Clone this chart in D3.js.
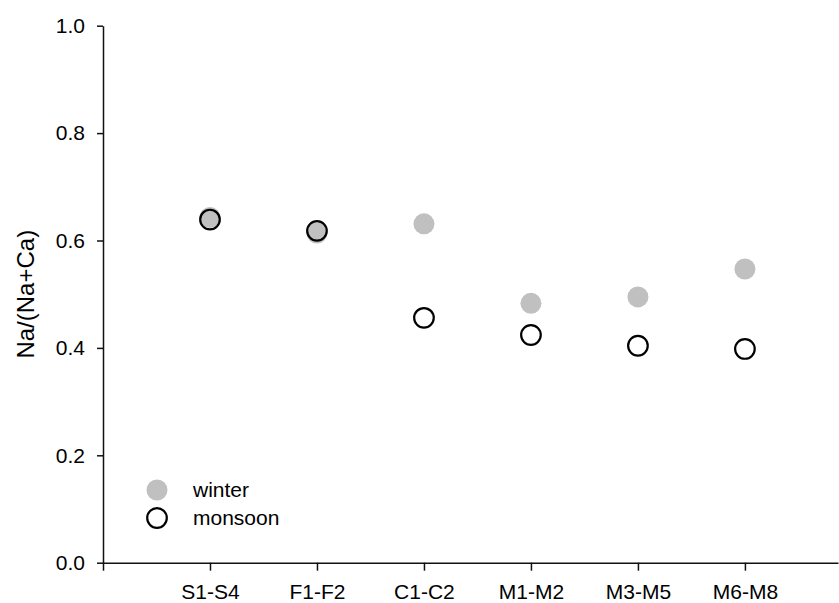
<!DOCTYPE html>
<html>
<head>
<meta charset="utf-8">
<script src="https://cdn.jsdelivr.net/npm/d3@7"></script>
<style>
  body { margin: 0; background: #fff; }
  svg { display: block; font-family: "Liberation Sans", Arial, sans-serif; }
</style>
</head>
<body>
<svg width="839" height="603"></svg>
<script>
var sites = ['S1-S4', 'F1-F2', 'C1-C2', 'M1-M2', 'M3-M5', 'M6-M8'];
var winter = [0.643, 0.614, 0.631, 0.483, 0.495, 0.547];
var monsoon = [0.639, 0.618, 0.456, 0.424, 0.404, 0.398];
var yTicks = [0, 0.2, 0.4, 0.6, 0.8, 1.0];

var svg = d3.select("svg");

// x runs in category units, 0 = origin, sites at 1..6
var x = d3.scaleLinear().domain([0, 6.87]).range([103, 838]);
var y = d3.scaleLinear().domain([0, 1]).range([562.7, 25.7]);

var xAxis = svg.append("g")
    .attr("transform", "translate(0," + y(0) + ")")
    .call(d3.axisBottom(x)
        .tickValues(d3.range(0, sites.length + 1))
        .tickSize(8)
        .tickPadding(13)
        .tickSizeOuter(0)
        .tickFormat(function(d) { return d === 0 ? "" : sites[d - 1]; }));

var yAxis = svg.append("g")
    .attr("transform", "translate(" + x(0) + ",0)")
    .call(d3.axisLeft(y)
        .tickValues(yTicks)
        .tickSize(6)
        .tickPadding(12)
        .tickSizeOuter(0)
        .tickFormat(d3.format(".1f")));

svg.selectAll(".domain, .tick line")
    .attr("stroke", "#111")
    .attr("stroke-width", 1.5);
svg.selectAll(".tick text")
    .attr("fill", "#000")
    .style("font-size", "21px");

svg.append("text")
    .attr("transform", "translate(26," + y(0.5) + ") rotate(-90)")
    .attr("text-anchor", "middle")
    .attr("dy", "0.35em")
    .style("font-size", "24px")
    .text("Na/(Na+Ca)");

// winter first, monsoon rings drawn on top with no fill
svg.append("g").selectAll("circle")
    .data(winter)
    .enter().append("circle")
    .attr("cx", function(d, i) { return x(i + 1); })
    .attr("cy", function(d) { return y(d); })
    .attr("r", 10.5)
    .attr("fill", "#c0c0c0");

svg.append("g").selectAll("circle")
    .data(monsoon)
    .enter().append("circle")
    .attr("cx", function(d, i) { return x(i + 1); })
    .attr("cy", function(d) { return y(d); })
    .attr("r", 9.8)
    .attr("fill", "none")
    .attr("stroke", "#000")
    .attr("stroke-width", 2.2);

// legend
var legend = svg.append("g").attr("transform", "translate(157,490)");
legend.append("circle").attr("cx", 0).attr("cy", 0).attr("r", 10.5).attr("fill", "#c0c0c0");
legend.append("circle").attr("cx", 0).attr("cy", 28).attr("r", 9.8)
    .attr("fill", "none").attr("stroke", "#000").attr("stroke-width", 2.2);
legend.append("text").attr("x", 36).attr("y", 0).attr("dy", "0.35em")
    .style("font-size", "21px").text("winter");
legend.append("text").attr("x", 36).attr("y", 28).attr("dy", "0.35em")
    .style("font-size", "21px").text("monsoon");
</script>
</body>
</html>
